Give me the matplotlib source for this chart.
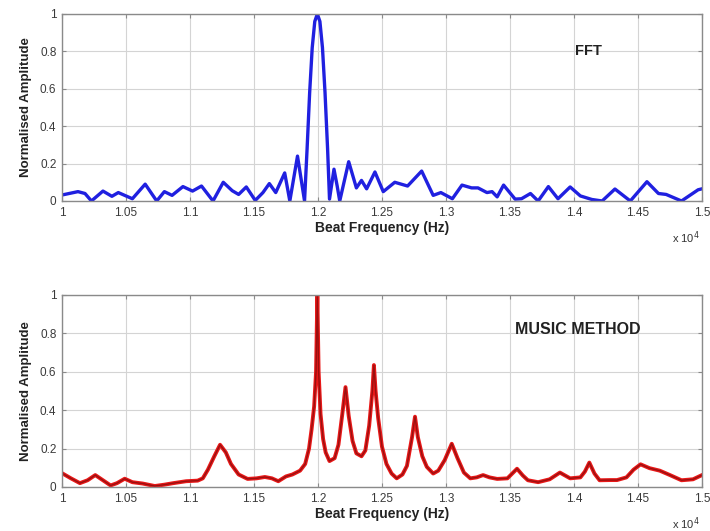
import matplotlib.pyplot as plt
import numpy as np

plt.rcParams['font.family'] = ['Liberation Sans', 'DejaVu Sans']

# beat frequency in units of 1e4 Hz, amplitudes normalised to the main peak
fft_freq = [1.000, 1.0125, 1.018, 1.023, 1.032, 1.039, 1.044, 1.055, 1.065, 1.074,
            1.080, 1.086, 1.0945, 1.102, 1.109, 1.118, 1.126, 1.133, 1.138, 1.144,
            1.151, 1.157, 1.162, 1.167, 1.174, 1.178, 1.184, 1.1895, 1.1915, 1.1935,
            1.1955, 1.1975, 1.1995, 1.2015, 1.2035, 1.2055, 1.2075, 1.209, 1.2125,
            1.215, 1.217, 1.224, 1.230, 1.234, 1.238, 1.2445, 1.251, 1.260, 1.270,
            1.281, 1.290, 1.296, 1.305, 1.3125, 1.320, 1.325, 1.332, 1.336, 1.340,
            1.345, 1.354, 1.359, 1.366, 1.372, 1.380, 1.3875, 1.397, 1.405, 1.414,
            1.422, 1.432, 1.444, 1.457, 1.466, 1.472, 1.484, 1.497, 1.500]
fft_amp = [0.032, 0.05, 0.04, 0.0, 0.053, 0.025, 0.045, 0.012, 0.09, 0.0,
           0.05, 0.03, 0.077, 0.053, 0.08, 0.0, 0.10, 0.055, 0.035, 0.075,
           0.003, 0.045, 0.093, 0.045, 0.15, 0.0, 0.24, 0.0, 0.28, 0.58,
           0.82, 0.96, 1.0, 0.96, 0.82, 0.58, 0.28, 0.01, 0.17,
           0.08, 0.0, 0.21, 0.07, 0.11, 0.065, 0.155, 0.05, 0.10, 0.08,
           0.16, 0.03, 0.045, 0.012, 0.085, 0.07, 0.07, 0.045, 0.05, 0.022,
           0.085, 0.01, 0.012, 0.04, 0.0, 0.077, 0.012, 0.075, 0.027, 0.008,
           0.0, 0.064, 0.0, 0.103, 0.04, 0.035, 0.0, 0.06, 0.065]

music_freq = [1.000, 1.007, 1.014, 1.020, 1.026, 1.032, 1.038, 1.043, 1.049, 1.055,
              1.063, 1.0725, 1.080, 1.087, 1.097, 1.106, 1.110, 1.114, 1.119, 1.1235,
              1.128, 1.132, 1.138, 1.145, 1.152, 1.1585, 1.164, 1.169, 1.175, 1.180,
              1.186, 1.190, 1.193, 1.195, 1.197, 1.1985, 1.1995, 1.2005, 1.202, 1.204,
              1.206, 1.209, 1.213, 1.216, 1.219, 1.2215, 1.224, 1.227, 1.230, 1.234,
              1.237, 1.240, 1.2425, 1.2437, 1.245, 1.247, 1.250, 1.2535, 1.2575, 1.2615,
              1.266, 1.2695, 1.2735, 1.2758, 1.278, 1.2815, 1.285, 1.290, 1.294, 1.299,
              1.3045, 1.309, 1.314, 1.319, 1.324, 1.329, 1.334, 1.340, 1.348, 1.3555,
              1.360, 1.364, 1.372, 1.381, 1.389, 1.397, 1.405, 1.4085, 1.412, 1.416,
              1.420, 1.428, 1.4336, 1.441, 1.4465, 1.452, 1.459, 1.467, 1.475, 1.484,
              1.493, 1.500]
music_amp = [0.072, 0.045, 0.02, 0.035, 0.062, 0.035, 0.008, 0.02, 0.043, 0.025,
             0.018, 0.005, 0.012, 0.02, 0.03, 0.033, 0.045, 0.09, 0.16, 0.22,
             0.18, 0.12, 0.065, 0.042, 0.045, 0.052, 0.045, 0.03, 0.055, 0.065,
             0.085, 0.12, 0.2, 0.3, 0.42, 0.6, 1.0, 0.6, 0.38, 0.25,
             0.18, 0.135, 0.15, 0.22, 0.38, 0.52, 0.37, 0.24, 0.175, 0.16,
             0.19, 0.32, 0.5, 0.635, 0.5, 0.36, 0.21, 0.12, 0.07, 0.045,
             0.065, 0.11, 0.26, 0.366, 0.26, 0.16, 0.105, 0.07, 0.085, 0.14,
             0.225, 0.15, 0.075, 0.045, 0.05, 0.062, 0.05, 0.042, 0.045, 0.095,
             0.06, 0.035, 0.025, 0.04, 0.075, 0.045, 0.05, 0.08, 0.127, 0.07,
             0.035, 0.036, 0.036, 0.05, 0.09, 0.118, 0.098, 0.085, 0.062, 0.035,
             0.04, 0.062]

x_ticks = np.arange(1.0, 1.5001, 0.05)
x_labels = ['1', '1.05', '1.1', '1.15', '1.2', '1.25', '1.3', '1.35', '1.4', '1.45', '1.5']
y_ticks = [0, 0.2, 0.4, 0.6, 0.8, 1]
y_labels = ['0', '0.2', '0.4', '0.6', '0.8', '1']

fig = plt.figure(figsize=(7.1, 5.31), dpi=100)
ax1 = fig.add_axes([0.0873, 0.6215, 0.9014, 0.3522])
ax2 = fig.add_axes([0.0873, 0.0829, 0.9014, 0.3616])


def style(ax):
    ax.set_xlim(1.0, 1.5)
    ax.set_ylim(0, 1)
    ax.set_xticks(x_ticks)
    ax.set_xticklabels(x_labels)
    ax.set_yticks(y_ticks)
    ax.set_yticklabels(y_labels)
    ax.grid(True, color='#d4d4d4', linewidth=0.8, linestyle='-')
    ax.set_axisbelow(True)
    for s in ax.spines.values():
        s.set_color('#8a8a8a')
        s.set_linewidth(1.0)
    ax.tick_params(direction='in', length=3, color='#8a8a8a', top=True, right=True,
                   labelsize=8.5, labelcolor='#3a3a3a', pad=4)
    ax.set_xlabel('Beat Frequency (Hz)', fontsize=10, fontweight='bold',
                  color='#222222', labelpad=2)
    ax.set_ylabel('Normalised Amplitude', fontsize=9.5, fontweight='bold',
                  color='#222222', labelpad=6)
    ax.text(0.975, -0.15, r'x 10$^4$', transform=ax.transAxes, fontsize=8,
            color='#333333', ha='center', va='top')


ax1.plot(fft_freq, fft_amp, color='#2020e0', linewidth=2.4, solid_joinstyle='round')
style(ax1)
ax1.text(0.822, 0.80, 'FFT', transform=ax1.transAxes, fontsize=10.5, fontweight='bold',
         color='#222222', ha='center', va='center')

ax2.plot(music_freq, music_amp, color='#e81818', linewidth=2.8, solid_joinstyle='round')
ax2.plot(music_freq, music_amp, color='#9a1010', linewidth=1.0, solid_joinstyle='round')
style(ax2)
ax2.text(0.806, 0.82, 'MUSIC METHOD', transform=ax2.transAxes, fontsize=11.5,
         fontweight='bold', color='#222222', ha='center', va='center')

fig.savefig('out.png', dpi=100)
